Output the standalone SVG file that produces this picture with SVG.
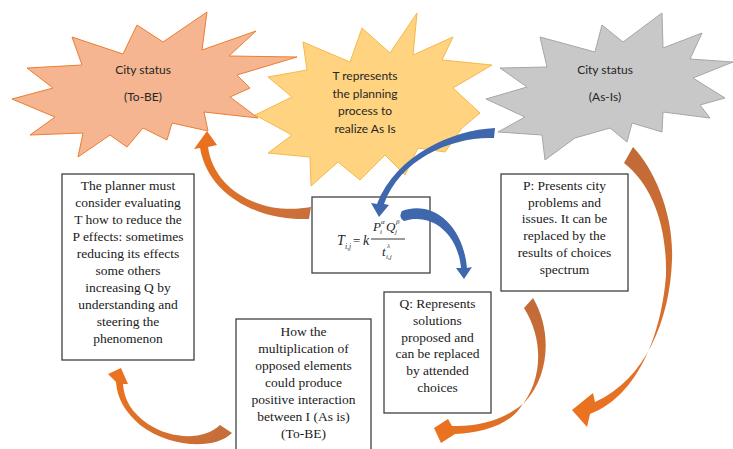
<svg xmlns="http://www.w3.org/2000/svg" width="733" height="449" viewBox="0 0 733 449">
<style>
.star-t{font-family:Lato,"Open Sans","Liberation Sans",sans-serif;font-size:12px;fill:#262626;text-anchor:middle}
.box{fill:#fff;stroke:#404040;stroke-width:1.3}
.bt{font-size:13.5px;fill:#1a1a1a;text-anchor:middle}
.f{font-style:italic;fill:#1f1f1f}
.blue{fill:#3F67AE}
</style>
<defs>
<linearGradient id="gA" gradientUnits="userSpaceOnUse" x1="310" y1="212" x2="205" y2="135"><stop offset="0" stop-color="#C8703D"/><stop offset="1" stop-color="#E9711E"/></linearGradient>
<linearGradient id="gD" gradientUnits="userSpaceOnUse" x1="637" y1="155" x2="575" y2="410"><stop offset="0" stop-color="#C26B38"/><stop offset="1" stop-color="#EA7220"/></linearGradient>
<linearGradient id="gE" gradientUnits="userSpaceOnUse" x1="530" y1="303" x2="436" y2="428"><stop offset="0" stop-color="#C26B38"/><stop offset="1" stop-color="#EA7220"/></linearGradient>
<linearGradient id="gF" gradientUnits="userSpaceOnUse" x1="226" y1="432" x2="121" y2="370"><stop offset="0" stop-color="#C46E3C"/><stop offset="1" stop-color="#EA7220"/></linearGradient>
</defs>

<g id="star-plan">
<polygon points="417,13 413,55 453,37 442,60 492,65 453,88 480,113 462,128 445,152 418,148 405,175 385,155 360,180 338,162 311,186 310,157 268,153 292,135 255,115 292,97 268,77 307,70 303,42 350,62 362,28 390,53" fill="#FFD37F" stroke="#F5B94A" stroke-width="1"/>
<text class="star-t" x="365" y="80">T represents</text>
<text class="star-t" x="365" y="97.5">the planning</text>
<text class="star-t" x="365" y="115">process to</text>
<text class="star-t" x="365" y="132.5">realize As Is</text>
</g>

<g id="star-tobe">
<polygon points="12,99 53,88 27,68 82,65 72,37 123,54 137,25 163,42 207,12 202,50 256,31 229,56 297,57 237,75 250,88 230,97 258,118 204,112 208,131 172,123 167,140 143,128 127,147 110,135 78,157 83,133 30,135 55,117" fill="#F4B590" stroke="#ED7D31" stroke-width="1"/>
<text class="star-t" x="143" y="74">City status</text>
<text class="star-t" x="143" y="101">(To-BE)</text>
</g>

<g id="star-asis">
<polygon points="486,99 527,87 500,68 547,67 540,37 595,52 602,25 623,42 662,13 663,48 702,33 690,59 733,62 693,78 725,98 700,105 710,118 663,112 662,132 632,123 627,142 610,128 575,138 545,160 542,135 498,132 525,117" fill="#C8C8C8" stroke="#A6A6A6" stroke-width="1"/>
<text class="star-t" x="605" y="74">City status</text>
<text class="star-t" x="605" y="101">(As-Is)</text>
</g>

<g id="box-planner">
<rect class="box" x="62" y="174" width="132" height="186"/>
<g class="bt" style="font-family:'Liberation Serif','Times New Roman',Tinos,'DejaVu Serif','Noto Serif',serif">
<text x="128" y="190">The planner must</text>
<text x="128" y="207">consider evaluating</text>
<text x="128" y="224">T how to reduce the</text>
<text x="128" y="241">P effects: sometimes</text>
<text x="128" y="258">reducing its effects</text>
<text x="128" y="275">some others</text>
<text x="128" y="292">increasing Q by</text>
<text x="128" y="309">understanding and</text>
<text x="128" y="326">steering the</text>
<text x="128" y="343">phenomenon</text>
</g>
</g>

<g id="box-formula">
<rect class="box" x="312" y="197" width="118" height="76"/>
<g class="f" style="font-family:'Liberation Serif','Times New Roman',Tinos,'DejaVu Serif','Noto Serif',serif">
<text x="337" y="245" font-size="14">T</text>
<text x="345" y="249" font-size="7.5">i,j</text>
<text x="353" y="245" font-size="13" style="font-style:normal">=</text>
<text x="363" y="245" font-size="14">k</text>
<text x="373" y="231" font-size="13">P</text>
<text x="380" y="234" font-size="7">i</text>
<text x="381" y="224" font-size="7">α</text>
<text x="386" y="231" font-size="13">Q</text>
<text x="395" y="234" font-size="7">j</text>
<text x="396" y="224" font-size="7">β</text>
<text x="382" y="256" font-size="13">t</text>
<text x="387" y="248" font-size="7">λ</text>
<text x="386" y="259" font-size="7">i,j</text>
</g>
<line x1="371" y1="239" x2="405" y2="239" stroke="#1f1f1f" stroke-width="0.9"/>
</g>

<g id="box-p">
<rect class="box" x="501" y="174" width="127" height="117"/>
<g class="bt" style="font-family:'Liberation Serif','Times New Roman',Tinos,'DejaVu Serif','Noto Serif',serif">
<text x="564.5" y="190">P: Presents city</text>
<text x="564.5" y="206.7">problems and</text>
<text x="564.5" y="223.4">issues. It can be</text>
<text x="564.5" y="240.1">replaced by the</text>
<text x="564.5" y="256.8">results of choices</text>
<text x="564.5" y="273.5">spectrum</text>
</g>
</g>

<g id="box-q">
<rect class="box" x="384" y="292" width="107" height="121"/>
<g class="bt" style="font-family:'Liberation Serif','Times New Roman',Tinos,'DejaVu Serif','Noto Serif',serif">
<text x="437.5" y="308">Q: Represents</text>
<text x="437.5" y="324.8">solutions</text>
<text x="437.5" y="341.6">proposed and</text>
<text x="437.5" y="358.4">can be replaced</text>
<text x="437.5" y="375.2">by attended</text>
<text x="437.5" y="392">choices</text>
</g>
</g>

<g id="box-how">
<rect class="box" x="236" y="319" width="135" height="135"/>
<g class="bt" style="font-family:'Liberation Serif','Times New Roman',Tinos,'DejaVu Serif','Noto Serif',serif">
<text x="303.5" y="336">How the</text>
<text x="303.5" y="353">multiplication of</text>
<text x="303.5" y="370">opposed elements</text>
<text x="303.5" y="387">could produce</text>
<text x="303.5" y="404">positive interaction</text>
<text x="303.5" y="421">between I (As is)</text>
<text x="303.5" y="438">(To-BE)</text>
</g>
</g>

<g id="connectors">
<path d="M309,219 C262,221 209,198 200,148 L194,149 L207,131 L217,145 L208,147 C214,191 262,216 311,207 Z" fill="url(#gA)"/>
<path class="blue" d="M495,128 C452,130 396,155 377,204 L371,203 L379,217 L389,205 L384,204 C400,158 454,136 494,138 Z"/>
<path class="blue" d="M402,211 C432,200 463,224 467,268 L472,267 L464,279 L456,268 L461,268 C458,234 432,212 404,221 Q398,217 402,211 Z"/>
<path d="M633,147 C655,170 674,215 672,260 C670,320 645,380 595,402 L593,393 L572,410 L587,427 L590,414 C640,395 662,330 666,275 C667,225 652,185 624,163 Z" fill="url(#gD)"/>
<path d="M533,298 C552,330 550,375 525,402 C505,420 478,427 452,426 L448,419 L434,428 L441,443 L455,434 C482,433 508,425 520,408 C543,380 544,340 524,308 Z" fill="url(#gE)"/>
<path d="M232,433 C215,450 170,448 140,425 C125,412 117,398 116,382 L108,374 L121,368 L128,384 L123,384 C124,400 132,413 148,424 C172,440 205,440 220,425 Z" fill="url(#gF)"/>
</g>
</svg>
